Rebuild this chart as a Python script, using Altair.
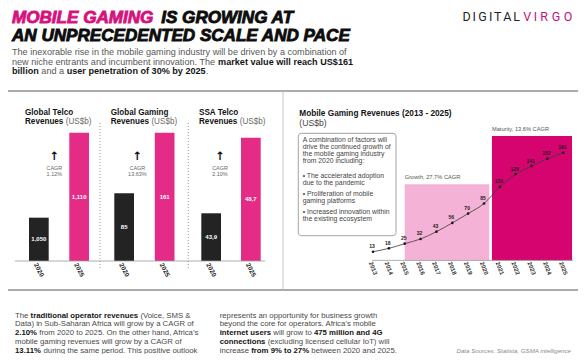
import altair as alt
import pandas as pd

# ---------------- data ----------------
bar_years = ["2020", "2025"]
telco_values = [1050, 1110]
gaming_values = [85, 161]
ssa_values = [43.9, 48.7]
telco_labels = ["1,050", "1,110"]
gaming_labels = ["85", "161"]
ssa_labels = ["43,9", "48,7"]
panel_names = ["Global Telco", "Global Gaming", "SSA Telco"]
cagr_values = ["1.12%", "13.63%", "2.10%"]

line_years = [2013, 2014, 2015, 2016, 2017, 2018, 2019, 2020, 2021, 2022, 2023, 2024, 2025]
line_values = [13, 18, 25, 32, 43, 56, 70, 85, 110, 129, 141, 152, 161]

phase_labels = ["Growth, 27.7% CAGR", "Maturity, 13.6% CAGR"]
phase_start = [2015.0, 2020.5]
phase_end = [2020.33, 2025.55]
phase_top = [114, 186]

# ---------------- layout helpers ----------------
W, H = 570, 346
O = 8


def P(v):
    return v - O


MAG = "#d6127d"
PINK = "#e42c86"
BARBLACK = "#232323"
DARK = "#141414"
GRAY = "#575757"
BODY = "Liberation Sans"

REG = dict(zip(" !\"#$%&'()*+,-./:;?",
               [278, 278, 355, 556, 556, 889, 667, 191, 333, 333, 389, 584, 278, 333, 278, 278, 278, 278, 556]))
REG.update(dict(zip("ABCDEFGHIJKLMNOPQRSTUVWXYZ",
                    [667, 667, 722, 722, 667, 611, 778, 722, 278, 500, 667, 556, 833, 722, 778, 667, 778, 722, 667,
                     611, 722, 667, 944, 667, 667, 611])))
REG.update(dict(zip("abcdefghijklmnopqrstuvwxyz",
                    [556, 556, 500, 556, 556, 278, 556, 556, 222, 222, 500, 222, 833, 556, 556, 556, 556, 333, 500,
                     278, 556, 500, 722, 500, 500, 500])))
REG.update({"\u2022": 350, "\u2019": 222})
BOLD = dict(zip(" !\"#$%&'()*+,-./:;?",
                [278, 333, 474, 556, 556, 889, 722, 238, 333, 333, 389, 584, 278, 333, 278, 278, 333, 333, 611]))
BOLD.update(dict(zip("ABCDEFGHIJKLMNOPQRSTUVWXYZ",
                     [722, 722, 722, 722, 667, 611, 778, 722, 278, 556, 722, 611, 833, 722, 778, 667, 778, 722, 667,
                      611, 722, 667, 944, 667, 667, 611])))
BOLD.update(dict(zip("abcdefghijklmnopqrstuvwxyz",
                     [556, 611, 556, 611, 556, 333, 611, 611, 278, 278, 556, 278, 889, 611, 611, 611, 611, 389, 556,
                      333, 611, 556, 778, 556, 556, 500])))
BOLD.update({"\u2022": 350, "\u2019": 278})


def em(s, bold=False):
    t = BOLD if bold else REG
    return sum(t.get(c, 556) for c in s) / 1000.0


def fit(parts, target):
    return round(target / sum(em(t, b) for t, b in parts), 2)


segs = []


def put(x, y, parts, size, creg=GRAY, cbold=DARK, font=BODY, style="normal", align="left",
        bweight=700, heavy=0):
    cx = x
    for text, b in parts:
        lead = len(text) - len(text.lstrip(" "))
        core = text.strip(" ")
        if core:
            segs.append(dict(text=core, px=P(cx + em(" " * lead, b) * size), py=P(y), size=size,
                             weight=bweight if b else 400, color=cbold if b else creg,
                             style=style, font=font, align=align, heavy=heavy))
        cx += em(text, b) * size
    return cx


# ---------------- header ----------------
T_SIZE = fit([("AN UNPRECEDENTED SCALE AND PACE", True)], 340)
put(12, 18.3, [("MOBILE GAMING", True)], T_SIZE, cbold=MAG, style="italic", heavy=1)
put(12 + em("MOBILE GAMING ", True) * T_SIZE + 3, 18.3, [("IS GROWING AT", True)], T_SIZE,
    cbold="#0d0d0d", style="italic", heavy=1)
put(12, 35.6, [("AN UNPRECEDENTED SCALE AND PACE", True)], T_SIZE, cbold="#0d0d0d", style="italic", heavy=1)

sub1 = "The inexorable rise in the mobile gaming industry will be driven by a combination of"
S_SIZE = fit([(sub1, False)], 335)
put(12, 52.3, [(sub1, False)], S_SIZE)
put(12, 61.7, [("new niche entrants and incumbent innovation. The ", False),
               ("market value will reach US$161", True)], S_SIZE)
put(12, 70.7, [("billion", True), (" and a ", False), ("user penetration of 30% by 2025", True),
               (".", False)], S_SIZE)


def logo(word, x0, x1, color, size=12.5):
    total = em(word) * size
    gap = (x1 - x0 - total) / (len(word) - 1)
    cx = x0
    for ch in word:
        w = em(ch) * size
        segs.append(dict(text=ch, px=P(cx + w / 2), py=P(17.2), size=size, weight=400, color=color,
                         style="normal", font="Roboto", align="center", heavy=0))
        cx += w + gap


logo("DIGITAL", 462, 520, "#1e1e1e")
logo("VIRGO", 523, 573, "#c4127a")

# ---------------- bar panel texts ----------------
BT_SIZE = fit([("Revenues ", True), ("(US$b)", False)], 66.5)
CG_SIZE = fit([("CAGR", False)], 15.7)
panel_x = [25, 110.7, 199]
arrow_x = [54.3, 137.3, 220]
for name, px_, ax, cv in zip(panel_names, panel_x, arrow_x, cagr_values):
    put(px_, 112.7, [(name, True)], BT_SIZE)
    put(px_, 121.7, [("Revenues ", True), ("(US$b)", False)], BT_SIZE, creg="#6a6a6a")
    put(ax, 168.3, [("CAGR", False)], CG_SIZE, creg="#666666", align="center")
    put(ax, 174.3, [(cv, False)], CG_SIZE, creg="#666666", align="center")
    segs.append(dict(text="\u2191", px=P(ax), py=P(156.5), size=11.5, weight=700, color="#111111",
                     style="normal", font="DejaVu Sans", align="center", heavy=0))

# ---------------- line panel texts ----------------
LT_SIZE = fit([("Mobile Gaming Revenues (2013 - 2025)", True)], 152.4)
put(299.3, 114, [("Mobile Gaming Revenues (2013 - 2025)", True)], LT_SIZE)
put(299.3, 122.7, [("(US$b)", False)], LT_SIZE * 1.05, creg="#444444")

box_lines = [
    ("A combination of factors will", 140),
    ("drive the continued growth of", 147.3),
    ("the mobile gaming industry", 154.3),
    ("from 2020 including:", 161),
    ("\u2022 The accelerated adoption", 176),
    ("due to the pandemic", 182.7),
    ("\u2022 Proliferation of mobile", 194),
    ("gaming platforms", 200.7),
    ("\u2022 Increased innovation within", 211.7),
    ("the existing ecosystem", 218.7),
]
BX_SIZE = fit([("drive the continued growth of", False)], 88)
for t, yy in box_lines:
    put(302.7, yy, [(t, False)], BX_SIZE, creg="#444444")

# ---------------- bottom paragraphs ----------------
para1 = [
    [("The ", False), ("traditional operator revenues", True), (" (Voice, SMS &", False)],
    [("Data) in Sub-Saharan Africa will grow by a CAGR of", False)],
    [("2.10%", True), (" from 2020 to 2025. On the other hand, Africa\u2019s", False)],
    [("mobile gaming revenues will grow by a CAGR of", False)],
    [("13.11%", True), (" during the same period. This positive outlook", False)],
]
para2 = [
    [("represents an opportunity for business growth", False)],
    [("beyond the core for operators. Africa\u2019s mobile", False)],
    [("internet users", True), (" will grow to ", False), ("475 million and 4G", True)],
    [("connections", True), (" (excluding licensed cellular IoT) will", False)],
    [("increase ", False), ("from 9% to 27%", True), (" between 2020 and 2025.", False)],
]
para_y = [315.5, 324.3, 333.1, 341.9, 350.7]
PA_SIZE = fit(para1[0], 176)
p2x = 397 - sum(em(t, b) for t, b in para2[4]) * PA_SIZE
for parts, yy in zip(para1, para_y):
    put(15, yy, parts, PA_SIZE, creg="#4a4a4a")
for parts, yy in zip(para2, para_y):
    put(p2x, yy, parts, PA_SIZE, creg="#4a4a4a")

src = "Data Sources: Statista, GSMA intelligence"
put(571, 350.7, [(src, False)], fit([(src, False)], 115), creg="#8a8a8a", style="italic", align="right")

# ---------------- build layers ----------------
layers = []
one = pd.DataFrame({"k": [0]})


def rule(x1, x2, y1, y2, color, w, dash=None):
    kw = dict(color=color, strokeWidth=w)
    if dash:
        kw["strokeDash"] = dash
    return alt.Chart(one).mark_rule(**kw).encode(
        x=alt.value(P(x1)), x2=alt.value(P(x2)), y=alt.value(P(y1)), y2=alt.value(P(y2)))


# line chart
lx = alt.Scale(domain=[2013, 2025], range=[P(373), P(563.3)], nice=False, zero=False, padding=0)
ly = alt.Scale(domain=[0, 200], range=[P(260.4), P(260.4 - 200 * 0.669)], nice=False, zero=False, padding=0)

pdf = pd.DataFrame({"label": phase_labels, "x0": phase_start, "x1": phase_end, "top": phase_top})
pdf["color"] = ["#f4b3d6", "#d6046f"]
pc = alt.Chart(pdf)
layers.append(pc.mark_rect().encode(
    x=alt.X("x0:Q", scale=lx, axis=None), x2="x1:Q",
    y=alt.Y("top:Q", scale=ly, axis=None), y2=alt.datum(0),
    color=alt.Color("color:N", scale=None)))
PH_SIZE = fit([("Growth, 27.7% CAGR", False)], 55.7)
layers.append(pc.mark_text(align="left", baseline="middle", dy=-7, fontSize=PH_SIZE, color="#555555",
                           font=BODY).encode(
    x=alt.X("x0:Q", scale=lx, axis=None), y=alt.Y("top:Q", scale=ly, axis=None), text="label:N"))

ldf = pd.DataFrame({"year": line_years, "value": line_values})
ldf["ylab"] = [str(v) for v in line_years]
lc = alt.Chart(ldf)
LX = alt.X("year:Q", scale=lx, axis=None)
LY = alt.Y("value:Q", scale=ly, axis=None)
layers.append(lc.mark_line(color="#3a3a3a", strokeWidth=0.8, interpolate="monotone").encode(x=LX, y=LY))
layers.append(lc.mark_point(filled=True, size=7, color="#1a1a1a", opacity=1).encode(x=LX, y=LY))
layers.append(lc.mark_text(fontSize=5, fontWeight="bold", dy=-5.5, dx=-1, color="#1a1a1a", font=BODY,
                           baseline="middle").encode(x=LX, y=LY, text="value:Q"))
layers.append(lc.mark_text(angle=68, fontSize=6, fontWeight="bold", color="#333333", font=BODY,
                           baseline="middle", align="center").encode(x=LX, y=alt.value(P(268.3)), text="ylab:N"))

# bar panels (x = position index of the year inside each panel, centred bars)
BAR_W = 19.7
panels = [
    (telco_values, telco_labels, 1019.4, (38.85, 79.15), 132.7),
    (gaming_values, gaming_labels, 0.0, (124.15, 164.65), 132.7),
    (ssa_values, ssa_labels, 40.87, (211.15, 250.85), 137.7),
]
for vals, labs, base, (ca, cb), top_px in panels:
    df = pd.DataFrame({"year": bar_years, "value": vals, "label": labs})
    df["idx"] = list(range(len(bar_years)))
    df["color"] = [BARBLACK, PINK]
    xs = alt.X("idx:Q", scale=alt.Scale(domain=[0, 1], range=[P(ca), P(cb)], nice=False, zero=False,
                                        padding=0), axis=None)
    ys = alt.Scale(domain=[base, vals[1]], range=[P(261), P(top_px)], nice=False, zero=False, padding=0)
    c = alt.Chart(df)
    layers.append(c.mark_bar(width=BAR_W).encode(x=xs, y=alt.Y("value:Q", scale=ys, axis=None),
                                                 y2=alt.datum(base), color=alt.Color("color:N", scale=None)))
    layers.append(c.transform_calculate(mid=f"(datum.value + {base}) / 2").mark_text(
        color="white", fontWeight="bold", fontSize=6, baseline="middle", align="center", font=BODY).encode(
        x=xs, y=alt.Y("mid:Q", scale=ys, axis=None), text="label:N"))
    layers.append(c.mark_text(angle=62, fontWeight="bold", fontSize=6.5, color="#222222", baseline="middle",
                              align="center", font=BODY).encode(x=xs, y=alt.value(P(270)), text="year:N"))

# decorations
layers.append(alt.Chart(one).mark_rect(cornerRadius=3, fill="white", stroke="#8c8c8c", strokeWidth=0.8).encode(
    x=alt.value(P(298.3)), x2=alt.value(P(396)), y=alt.value(P(133.3)), y2=alt.value(P(235.7))))
layers.append(rule(8, 578, 91, 91, "#8f8f8f", 1.3))
layers.append(rule(8, 578, 290, 290, "#8f8f8f", 1.3))
layers.append(rule(283, 283, 91, 290, "#c4c4c4", 1))
layers.append(rule(100, 100, 123, 270, "#9a9a9a", 1, [1, 2]))
layers.append(rule(188.3, 188.3, 123, 270, "#9a9a9a", 1, [1, 2]))
layers.append(rule(15, 265, 261, 261, "#9a9a9a", 0.8))
layers.append(rule(372, 573, 260.4, 260.4, "#9a9a9a", 0.8))

# text segments
seg_df = pd.DataFrame(segs)
pxs = alt.Scale(domain=[0, W], range=[0, W], nice=False, zero=False, padding=0)
pys = alt.Scale(domain=[0, H], range=[0, H], nice=False, zero=False, padding=0)
for (w, st, f, a, hv), g in seg_df.groupby(["weight", "style", "font", "align", "heavy"]):
    mk = dict(baseline="middle", align=a, fontWeight=int(w), fontStyle=st, font=f)
    enc = dict(x=alt.X("px:Q", scale=pxs, axis=None), y=alt.Y("py:Q", scale=pys, axis=None),
               text="text:N", size=alt.Size("size:Q", scale=None), color=alt.Color("color:N", scale=None))
    if hv:
        mk["strokeWidth"] = 0.9
        enc["stroke"] = alt.Stroke("color:N", scale=None)
    layers.append(alt.Chart(g.reset_index(drop=True)).mark_text(**mk).encode(**enc))

chart = alt.layer(*layers).resolve_scale(x="independent", y="independent").properties(
    width=W, height=H, autosize=alt.AutoSizeParams(type="none"), padding=0, background="white"
).configure_view(stroke=None)

chart.save("out.html", embed_options={"renderer": "svg", "actions": False})
